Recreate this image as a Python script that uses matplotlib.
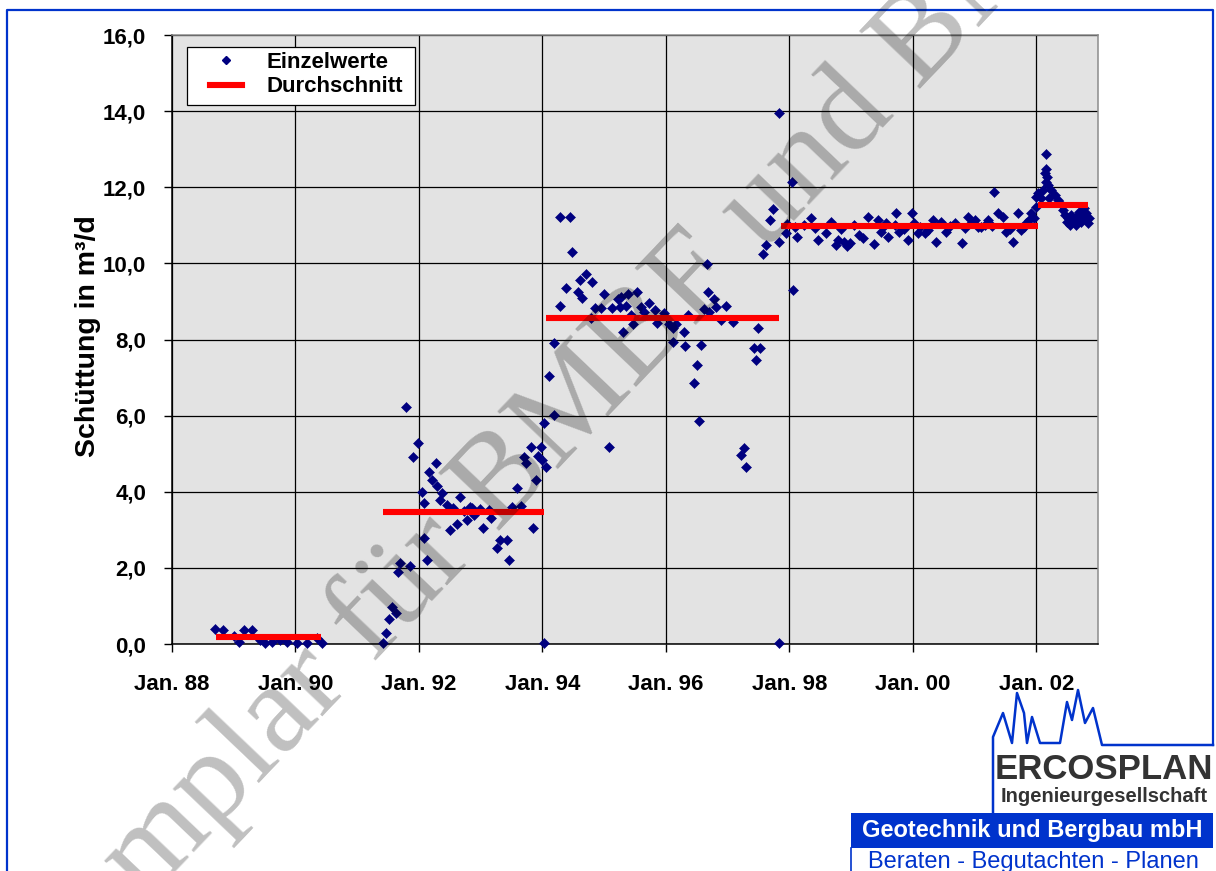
import matplotlib
matplotlib.use("Agg")
import matplotlib.pyplot as plt
from matplotlib.lines import Line2D
from matplotlib.patches import Rectangle
from matplotlib.transforms import Affine2D

plt.rcParams['font.family'] = ['Liberation Sans', 'DejaVu Sans']

# Einzelwerte (Zeit in Dezimaljahren, Schuettung in m3/d)
t_88 = [1988.70, 1988.83, 1989.00, 1989.08, 1989.17, 1989.30, 1989.43, 1989.50,
        1989.62, 1989.75, 1989.86, 1990.02, 1990.19, 1990.35, 1990.43]
q_88 = [0.40, 0.37, 0.20, 0.05, 0.37, 0.37, 0.10, 0.02,
        0.05, 0.10, 0.05, 0.02, 0.02, 0.15, 0.02]

t_91 = [1991.41, 1991.47, 1991.51, 1991.56, 1991.63, 1991.66, 1991.69, 1991.79,
        1991.85, 1991.91, 1991.98, 1992.05, 1992.08, 1992.08, 1992.13, 1992.17,
        1992.21, 1992.27, 1992.29, 1992.34, 1992.37, 1992.46, 1992.50, 1992.55,
        1992.62, 1992.66, 1992.73, 1992.78, 1992.83, 1992.86, 1992.90, 1992.99,
        1993.03, 1993.13, 1993.17, 1993.26, 1993.32, 1993.42, 1993.46, 1993.51,
        1993.59, 1993.65, 1993.70, 1993.74, 1993.81, 1993.84, 1993.90, 1993.93,
        1993.98, 1994.00, 1994.03, 1994.03, 1994.06]
q_91 = [0.02, 0.28, 0.65, 0.98, 0.81, 1.88, 2.14, 6.22,
        2.05, 4.92, 5.29, 4.00, 3.71, 2.78, 2.21, 4.53,
        4.31, 4.76, 4.15, 3.78, 3.96, 3.65, 3.00, 3.56,
        3.14, 3.87, 3.49, 3.26, 3.59, 3.56, 3.39, 3.55,
        3.04, 3.52, 3.30, 2.51, 2.73, 2.73, 2.21, 3.61,
        4.09, 3.63, 4.92, 4.76, 5.18, 3.04, 4.31, 4.94,
        5.18, 4.83, 5.80, 0.02, 4.66]

t_94 = [1994.10, 1994.19, 1994.19, 1994.28, 1994.28, 1994.39, 1994.45, 1994.48,
        1994.58, 1994.61, 1994.64, 1994.71, 1994.78, 1994.80, 1994.86, 1994.95,
        1994.99, 1995.08, 1995.12, 1995.22, 1995.26, 1995.28, 1995.31, 1995.35,
        1995.38, 1995.44, 1995.47, 1995.54, 1995.59, 1995.65, 1995.73, 1995.83,
        1995.85, 1995.97, 1996.05, 1996.12, 1996.12, 1996.17, 1996.29, 1996.31,
        1996.36, 1996.46, 1996.50, 1996.53, 1996.57, 1996.62, 1996.66, 1996.69,
        1996.70, 1996.78, 1996.81, 1996.90, 1996.98, 1997.08, 1997.22, 1997.26,
        1997.30, 1997.42, 1997.46, 1997.49, 1997.53, 1997.58, 1997.62, 1997.68,
        1997.74, 1997.83, 1997.83, 1997.84]
q_94 = [7.05, 7.90, 6.02, 11.23, 8.89, 9.36, 11.23, 10.29,
        9.26, 9.56, 9.10, 9.72, 8.57, 9.52, 8.84, 8.84,
        9.20, 5.18, 8.84, 9.06, 8.86, 9.11, 8.20, 8.88,
        9.20, 8.64, 8.41, 9.26, 8.86, 8.71, 8.95, 8.78,
        8.44, 8.69, 8.41, 8.29, 7.93, 8.41, 8.21, 7.84,
        8.64, 6.87, 7.33, 5.87, 7.86, 8.79, 9.98, 9.26,
        8.73, 9.06, 8.86, 8.51, 8.89, 8.47, 4.97, 5.14,
        4.66, 7.78, 7.46, 8.31, 7.78, 10.25, 10.47, 11.14,
        11.42, 13.94, 0.02, 10.55]

t_98 = [1997.94, 1997.96, 1998.05, 1998.06, 1998.09, 1998.12, 1998.24, 1998.35,
        1998.42, 1998.47, 1998.59, 1998.67, 1998.76, 1998.79, 1998.83, 1998.88,
        1998.93, 1998.99, 1999.05, 1999.13, 1999.19, 1999.28, 1999.37, 1999.43,
        1999.49, 1999.52, 1999.57, 1999.60, 1999.71, 1999.73, 1999.78, 1999.85,
        1999.92, 1999.99, 2000.02, 2000.08, 2000.12, 2000.19, 2000.25, 2000.32,
        2000.38, 2000.46, 2000.54, 2000.60, 2000.68, 2000.79, 2000.84, 2000.89,
        2000.95, 2001.00, 2001.05, 2001.11, 2001.17, 2001.22, 2001.28, 2001.32,
        2001.38, 2001.46, 2001.51, 2001.57, 2001.62, 2001.70, 2001.76, 2001.80,
        2001.84, 2001.88, 2001.92, 2001.96, 2002.00]
q_98 = [10.79, 11.03, 12.15, 9.30, 10.96, 10.70, 11.01, 11.18,
        10.92, 10.62, 10.81, 11.10, 10.48, 10.62, 10.90, 10.55,
        10.46, 10.53, 11.00, 10.75, 10.66, 11.23, 10.51, 11.14,
        10.83, 10.95, 11.05, 10.70, 11.01, 11.33, 10.83, 10.90,
        10.62, 11.33, 11.05, 10.79, 10.95, 10.79, 10.88, 11.14,
        10.57, 11.10, 10.83, 10.98, 11.05, 10.53, 10.92, 11.23,
        11.05, 11.14, 10.95, 10.96, 11.02, 11.14, 10.98, 11.88,
        11.32, 11.23, 10.83, 10.90, 10.57, 11.32, 10.88, 10.95,
        11.05, 11.15, 11.32, 11.20, 11.49]

t_02 = [2002.00, 2002.03, 2002.08, 2002.11, 2002.14, 2002.15, 2002.15, 2002.15,
        2002.17, 2002.19, 2002.21, 2002.24, 2002.30, 2002.35, 2002.41, 2002.43,
        2002.46, 2002.49, 2002.51, 2002.54, 2002.57, 2002.59, 2002.62, 2002.65,
        2002.67, 2002.70, 2002.73, 2002.76, 2002.78, 2002.81, 2002.84, 2002.86]
q_02 = [11.75, 11.84, 11.71, 11.93, 12.37, 12.87, 12.47, 12.15,
        12.28, 12.06, 11.71, 11.93, 11.80, 11.67, 11.53, 11.40,
        11.27, 11.10, 11.19, 11.01, 11.27, 11.19, 11.14, 11.01,
        11.27, 11.36, 11.10, 11.19, 11.45, 11.32, 11.05, 11.19]

# Durchschnitt je Zeitraum
avg_von = [1988.72, 1991.41, 1994.06, 1997.87, 2002.03]
avg_bis = [1990.41, 1994.02, 1997.84, 2002.03, 2002.83]
avg_wert = [0.18, 3.46, 8.57, 10.97, 11.54]

x_ticks = [1988, 1990, 1992, 1994, 1996, 1998, 2000, 2002]
x_labels = ["Jan. 88", "Jan. 90", "Jan. 92", "Jan. 94", "Jan. 96", "Jan. 98", "Jan. 00", "Jan. 02"]
y_ticks = [0, 2, 4, 6, 8, 10, 12, 14, 16]

W, H = 1216, 871
fig = plt.figure(figsize=(W / 100, H / 100), dpi=100)
# pixel coordinates (origin top left) for the frame and logo
pix = Affine2D().scale(1 / W, -1 / H).translate(0, 1) + fig.transFigure

ax = fig.add_axes([172 / W, 1 - 644 / H, 926 / W, 609 / H])
ax.set_facecolor('#e3e3e3')

t_all = t_88 + t_91 + t_94 + t_98 + t_02
q_all = q_88 + q_91 + q_94 + q_98 + q_02
ax.plot(t_all, q_all, ls='none', marker='D', ms=5.0, color='#000080',
        mec='#000080', mew=0.4, zorder=3, clip_on=False)
ax.hlines(avg_wert, avg_von, avg_bis, color='red', lw=4.4, zorder=4)

ax.set_xlim(1988, 2003)
ax.set_ylim(0, 16)
ax.set_xticks(x_ticks)
ax.set_xticklabels(x_labels, fontsize=16, fontweight='bold')
ax.set_yticks(y_ticks)
ax.set_yticklabels([("%.1f" % v).replace('.', ',') for v in y_ticks], fontsize=16, fontweight='bold')
ax.tick_params(axis='y', direction='out', length=5.5, width=1, pad=13)
ax.tick_params(axis='x', direction='out', length=5.5, width=1, pad=16)
ax.grid(True, color='black', lw=0.9)
ax.set_axisbelow(True)
for s in ['left', 'bottom']:
    ax.spines[s].set_color('black')
    ax.spines[s].set_linewidth(1.1)
for s in ['top', 'right']:
    ax.spines[s].set_color('#8c8c8c')
    ax.spines[s].set_linewidth(1.1)

ax.set_ylabel("Schüttung in m³/d", fontsize=20.5, fontweight='bold')
ax.yaxis.set_label_coords(-0.0765, 0.505)

# legend
ax.add_patch(Rectangle(((187 - 172) / 926, (644 - 105) / 609), 228 / 926, 58 / 609,
                       transform=ax.transAxes, facecolor='white', edgecolor='black',
                       lw=0.9, zorder=5))
handles = [Line2D([], [], ls='none', marker='D', ms=3.8, color='#000080'),
           Line2D([], [], color='red', lw=4.4)]
leg = ax.legend(handles, ["Einzelwerte", "Durchschnitt"], loc='upper left',
                bbox_to_anchor=((210 - 172) / 926, (644 - 52) / 609), borderaxespad=0,
                borderpad=0, frameon=False, handlelength=1.45, handletextpad=1.1,
                labelspacing=0.15, prop=dict(size=16, weight='bold'))
leg.set_zorder(6)

# frame and logo
blue = '#0033cc'
fig.add_artist(Line2D([7, 7, 1213, 1213], [871, 10, 10, 745], color=blue, lw=1.6,
                      transform=pix))
tower_x = [1213, 1102, 1093, 1085, 1078, 1072, 1067, 1060, 1040, 1032, 1027, 1024,
           1017, 1012, 1003, 993, 993]
tower_y = [745, 745, 708, 723, 690, 720, 702, 743, 743, 717, 743, 713,
           693, 743, 713, 737, 812]
fig.add_artist(Line2D(tower_x, tower_y, color=blue, lw=1.8, transform=pix))
fig.add_artist(Rectangle((851, 813), 362, 35, facecolor=blue, edgecolor='none',
                         transform=pix))
fig.add_artist(Line2D([851, 851], [848, 871], color=blue, lw=1.2, transform=pix))

fig.text(1103.5 / W, 1 - 769 / H, "ERCOSPLAN", ha='center', va='center',
         fontsize=25, fontweight='bold', color='#333333')
fig.text(1104 / W, 1 - 796 / H, "Ingenieurgesellschaft", ha='center', va='center',
         fontsize=14.5, fontweight='bold', color='#333333')
fig.text(1032 / W, 1 - 830.5 / H, "Geotechnik und Bergbau mbH", ha='center', va='center',
         fontsize=17, fontweight='bold', color='white')
fig.text(1033 / W, 1 - 851 / H, "Beraten - Begutachten - Planen", ha='center', va='top',
         fontsize=17, color=blue)

# watermark (runs off the page like in the original)
fig.text(541 / W, 1 - 442 / H, "Exemplar für BMBF und BMU", rotation=46.4,
         rotation_mode='anchor', ha='center', va='center', fontsize=92,
         family='Liberation Serif', color='black', alpha=0.25, zorder=10)

fig.savefig("out.png", dpi=100)
